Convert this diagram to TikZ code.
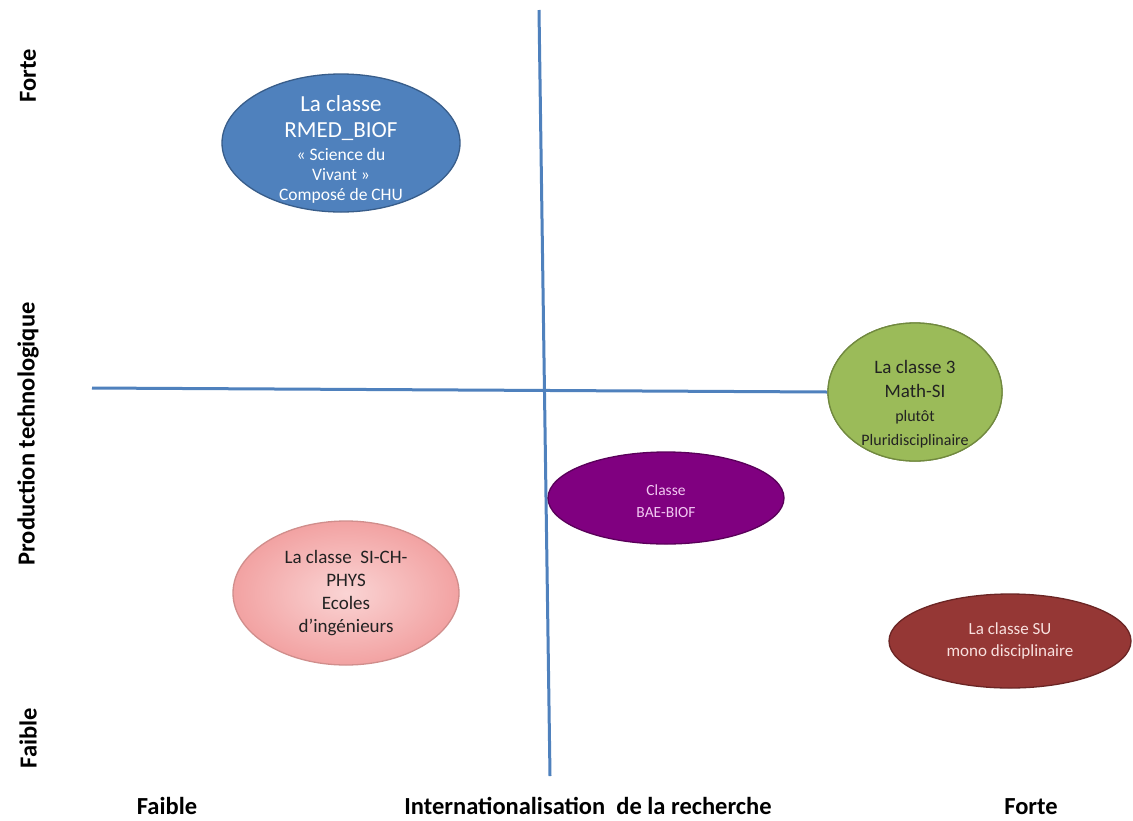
\documentclass[tikz,border=0pt]{standalone}
\usepackage{fontspec}
\setmainfont{Carlito}
\usetikzlibrary{shapes.geometric}
\definecolor{axisblue}{HTML}{4F81BD}
\definecolor{bluefill}{HTML}{4F81BD}
\definecolor{blueborder}{HTML}{385D8A}
\definecolor{greenfill}{HTML}{9BBB59}
\definecolor{greenborder}{HTML}{71893F}
\definecolor{purplefill}{HTML}{800080}
\definecolor{purpleborder}{HTML}{5A005A}
\definecolor{pinkout}{HTML}{F2A2A2}
\definecolor{pinkin}{HTML}{FAD4D4}
\definecolor{pinkborder}{HTML}{D08E8C}
\definecolor{redfill}{HTML}{953735}
\definecolor{redborder}{HTML}{6B2524}
\definecolor{purpletext}{HTML}{F2C8F2}
\definecolor{redtext}{HTML}{F8E0DE}
\definecolor{darktext}{HTML}{222222}
\newcommand{\fsz}[1]{\fontsize{#1}{20}\selectfont}
\tikzset{
  axisline/.style={draw=axisblue, line width=3pt},
  bubble/.style={ellipse, inner sep=0pt, line width=1.3pt},
  bubbletext/.style={align=center, inner sep=0pt},
  axislabel/.style={font=\bfseries\fontsize{24.5}{28}\selectfont, inner sep=0pt, text=black},
}
\begin{document}
\begin{tikzpicture}[x=1pt,y=-1pt]
\useasboundingbox[fill=white] (0,0) rectangle (1133,820);
% axes
\coordinate (vtop) at (539,10);
\coordinate (vbot) at (550,776);
\coordinate (hleft) at (92,388);
\draw[axisline] (vtop) -- (vbot);
% bubbles
\node[bubble, fill=greenfill, draw=greenborder, minimum width=174pt, minimum height=138pt] (mathsi) at (915,392) {};
\draw[axisline] (hleft) -- (mathsi.west);
\node[bubble, fill=greenfill, draw=greenborder, minimum width=174pt, minimum height=138pt] at (915,392) {};
\node[bubbletext, text=darktext, font=\fontsize{19}{24}\selectfont] at ([yshift=-12pt]mathsi.center) {\fontsize{19}{24}\selectfont La classe 3\\\fontsize{19}{24}\selectfont Math-SI\\\fontsize{16}{24}\selectfont plutôt\\\fontsize{16}{24}\selectfont Pluridisciplinaire};

\node[bubble, fill=bluefill, draw=blueborder, minimum width=238pt, minimum height=138pt] (rmed) at (341,143) {};
\node[bubbletext, text=white, font=\fontsize{18}{20}\selectfont] at ([yshift=-6pt]rmed.center) {\fontsize{23}{20}\selectfont La classe\\[6pt]\fontsize{23}{20}\selectfont RMED\_BIOF\\[3pt]\fsz{17.5}« Science du\\\fsz{17.5}Vivant »\\\fsz{17.5}Composé de CHU};

\node[bubble, fill=purplefill, draw=purpleborder, minimum width=236pt, minimum height=92pt] (bae) at (666,498) {};
\node[bubbletext, text=purpletext, font=\fontsize{15.5}{22}\selectfont] at ([yshift=-3pt]bae.center) {Classe\\BAE-BIOF};

\node[bubble, inner color=pinkin, outer color=pinkout, draw=pinkborder, minimum width=226pt, minimum height=144pt] (sich) at (346,593) {};
\node[bubbletext, text=darktext, font=\fontsize{19}{23}\selectfont] at (sich.center) {La classe\ \ SI-CH-\\PHYS\\Ecoles\\d’ingénieurs};

\node[bubble, fill=redfill, draw=redborder, minimum width=242pt, minimum height=94pt] (su) at (1010,641) {};
\node[bubbletext, text=redtext, font=\fontsize{17}{22}\selectfont] at (su) {La classe SU\\mono disciplinaire};

% axis labels
\node[axislabel, rotate=90] (yforte) at (28,76) {Forte};
\node[axislabel, rotate=90] (ytitle) at (28,434) {Production technologique};
\node[axislabel, rotate=90] (yfaible) at (28,738) {Faible};
\node[axislabel, anchor=base] (xfaible) at (167,814) {Faible};
\node[axislabel, anchor=base] (xtitle) at (588,814) {Internationalisation\ \ de la recherche};
\node[axislabel, anchor=base] (xforte) at (1031,814) {Forte};
\end{tikzpicture}
\end{document}
